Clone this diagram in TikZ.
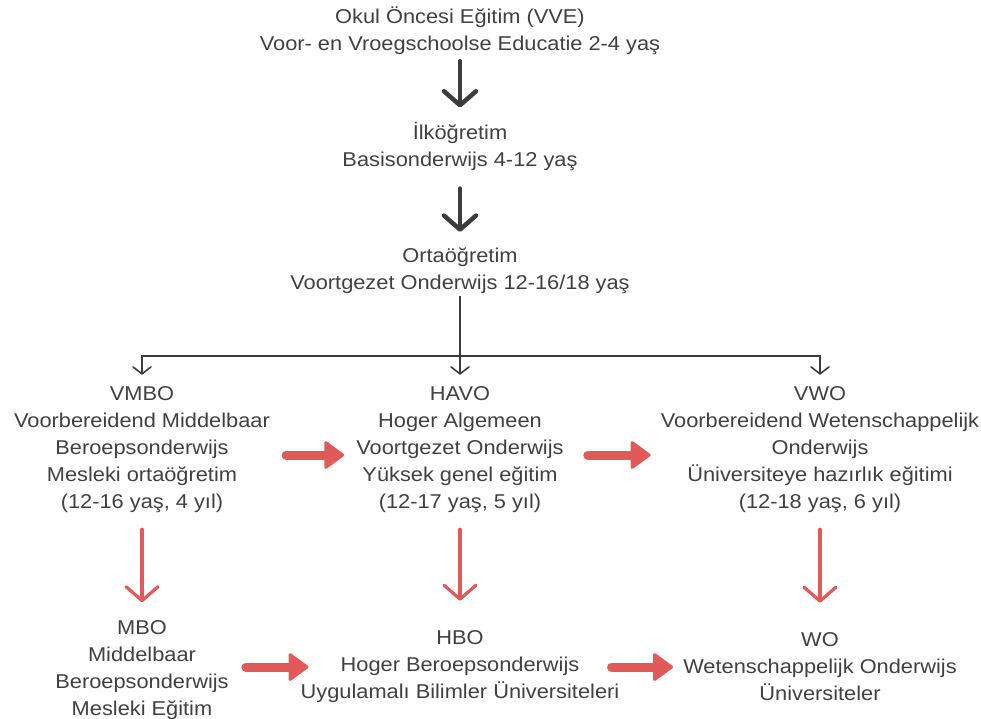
\documentclass[tikz,border=0pt]{standalone}
\usepackage{fontspec}
\setmainfont{Liberation Sans}[FakeStretch=1.09]
\usepackage{tikz}
\usetikzlibrary{arrows.meta,positioning,calc}
\definecolor{txtgray}{HTML}{404040}
\definecolor{arrgray}{HTML}{3C3C3C}
\definecolor{arrred}{HTML}{E05A5A}
\tikzset{
  lvl/.style  = {align=center, text=txtgray, font=\fontsize{20}{27}\selectfont, inner sep=2pt},
  dn/.style   = {draw=arrgray, line width=4.5pt, line cap=round,
                 -{Straight Barb[length=14pt,width=32pt,round]}},
  br/.style   = {draw=arrgray, line width=1.6pt,
                 -{Straight Barb[length=7pt,width=18pt,round]}, shorten >=10pt},
  rdn/.style  = {draw=arrred, line width=3.2pt, line cap=round,
                 -{Straight Barb[length=14pt,width=32pt,round]}},
  rgt/.style  = {draw=arrred, line width=9pt, line cap=round,
                 -{Triangle[length=21pt,width=30pt,line width'=3pt,round]}}
}

\begin{document}
\begin{tikzpicture}[x=1pt, y=-1pt]
\useasboundingbox (0,0) rectangle (981,718);
% ---- top chain ----
\node[lvl] (vve)   at (460,31)  {Okul Öncesi Eğitim (VVE)\\ Voor- en Vroegschoolse Educatie 2-4 yaş};
\node[lvl] (basis) at (460,146) {İlköğretim\\ Basisonderwijs 4-12 yaş};
\node[lvl] (vo)    at (460,271) {Ortaöğretim\\ Voortgezet Onderwijs 12-16/18 yaş};

% ---- secondary tracks ----
\node[lvl] (vmbo) at (142,450) {VMBO\\ Voorbereidend Middelbaar\\ Beroepsonderwijs\\ Mesleki ortaöğretim\\ (12-16 yaş, 4 yıl)};
\node[lvl] (havo) at (460,450) {HAVO\\ Hoger Algemeen\\ Voortgezet Onderwijs\\ Yüksek genel eğitim\\ (12-17 yaş, 5 yıl)};
\node[lvl] (vwo)  at (820,450) {VWO\\ Voorbereidend Wetenschappelijk\\ Onderwijs\\ Üniversiteye hazırlık eğitimi\\ (12-18 yaş, 6 yıl)};

% ---- higher education ----
\node[lvl] (mbo) at (142,670) {MBO\\ Middelbaar\\ Beroepsonderwijs\\ Mesleki Eğitim};
\node[lvl] (hbo) at (460,667) {HBO\\ Hoger Beroepsonderwijs\\ Uygulamalı Bilimler Üniversiteleri};
\node[lvl] (wo)  at (820,667) {WO\\ Wetenschappelijk Onderwijs\\ Üniversiteler};

% ---- arrows down the spine ----
\draw[dn, shorten <=4pt, shorten >=12pt] (vve) -- (basis);
\draw[dn, shorten <=16pt, shorten >=14pt] (basis) -- (vo);

% ---- split into three tracks ----
\coordinate (split) at (460,356);
\draw[arrgray, line width=1.6pt] (vo.south) -- (split);
\draw[br] (split) -| (vmbo.north);
\draw[br] (split) -- (havo.north);
\draw[br] (split) -| (vwo.north);

% ---- transfers between tracks ----
\draw[rgt, shorten <=14pt, shorten >=10pt] ([yshift=-5pt]vmbo.east) -- ([yshift=-5pt]havo.west);
\draw[rgt, shorten <=22pt, shorten >=8pt] ([yshift=-5pt]havo.east) -- ([yshift=-5pt]vwo.west);
\draw[rgt, shorten <=15pt, shorten >=-10pt] (mbo.east |- hbo.west) -- (hbo.west);
\draw[rgt, shorten <=-10pt, shorten >=8pt] (hbo.east) -- (wo.west);

% ---- on to higher education ----
\draw[rdn, shorten <=14pt, shorten >=16pt] (vmbo) -- (vmbo |- mbo.north);
\draw[rdn, shorten <=14pt, shorten >=28pt] (havo) -- (hbo);
\draw[rdn, shorten <=14pt, shorten >=28pt] (vwo) -- (wo);
\end{tikzpicture}
\end{document}
